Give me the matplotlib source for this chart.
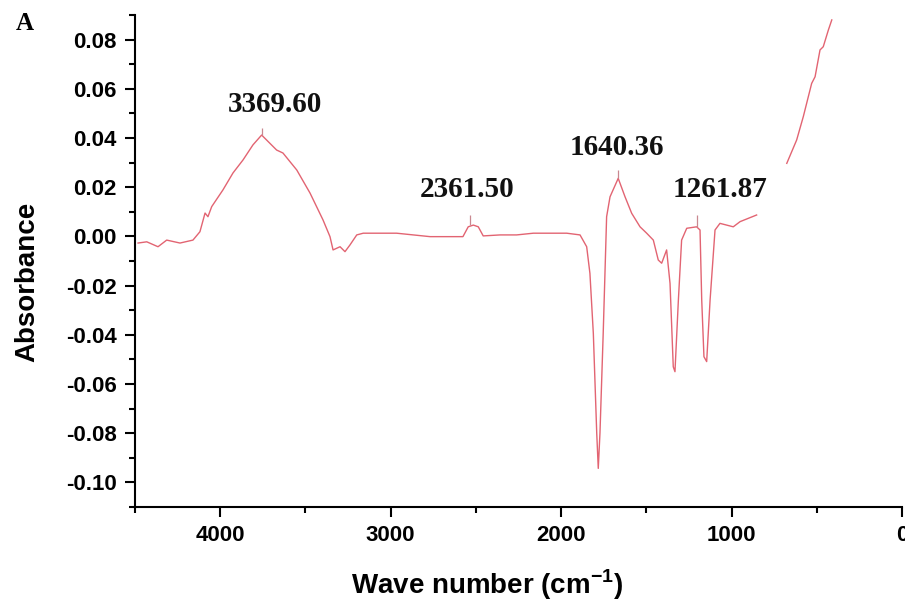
import matplotlib
matplotlib.use('Agg')
import matplotlib.pyplot as plt
from matplotlib.ticker import MultipleLocator, FuncFormatter

# ── Data ──────────────────────────────────────────────────────────────────────
# main trace, 4480 -> 850 cm-1
wn_main = [4482, 4431, 4365, 4314, 4236, 4160, 4119, 4089, 4072, 4050,
           3984, 3925, 3866, 3808, 3757, 3708, 3669, 3632, 3551, 3473,
           3397, 3356, 3338, 3297, 3268, 3239, 3199, 3161, 2965, 2769,
           2576, 2545, 2515, 2486, 2457, 2358, 2261, 2163, 1967, 1889,
           1850, 1831, 1811, 1791, 1782, 1772, 1753, 1733, 1713, 1665,
           1625, 1586, 1537, 1498, 1459, 1430, 1410, 1381, 1361, 1342,
           1332, 1312, 1293, 1263, 1205, 1185, 1175, 1162, 1146, 1126,
           1097, 1068, 1029, 990, 950, 853]
abs_main = [-0.0027, -0.0022, -0.0042, -0.0015, -0.0027, -0.0015, 0.0019, 0.0095, 0.0080, 0.0121,
            0.0189, 0.0258, 0.0311, 0.0372, 0.0412, 0.0378, 0.0351, 0.0339, 0.0270, 0.0176,
            0.0067, -0.0001, -0.0055, -0.0042, -0.0062, -0.0035, 0.0006, 0.0013, 0.0013, -0.0001,
            -0.0001, 0.0039, 0.0046, 0.0039, 0.0002, 0.0006, 0.0006, 0.0013, 0.0013, 0.0006,
            -0.0042, -0.0150, -0.0394, -0.0800, -0.0943, -0.0799, -0.0393, 0.0080, 0.0161, 0.0236,
            0.0161, 0.0094, 0.0039, 0.0013, -0.0015, -0.0096, -0.0109, -0.0055, -0.0191, -0.0530,
            -0.0550, -0.0259, -0.0015, 0.0033, 0.0039, 0.0026, -0.0259, -0.0489, -0.0509, -0.0259,
            0.0026, 0.0053, 0.0046, 0.0039, 0.0060, 0.0087]

# low wavenumber tail (separate segment)
wn_tail = [676, 618, 579, 530, 510, 481, 462, 432, 412]
abs_tail = [0.0297, 0.0392, 0.0487, 0.0622, 0.0649, 0.0758, 0.0771, 0.0839, 0.0880]

# peak labels
peak_text = ['3369.60', '2361.50', '1640.36', '1261.87']
peak_wn = [3757, 2535, 1665, 1205]
peak_base = [0.0412, 0.0046, 0.0236, 0.0039]
peak_top = [0.0439, 0.0087, 0.0270, 0.0087]
label_wn = [3679, 2549, 1672, 1068]
label_y = [0.0538, 0.0189, 0.0361, 0.0189]

# ── Figure ────────────────────────────────────────────────────────────────────
plt.rcParams['mathtext.fontset'] = 'custom'
plt.rcParams['mathtext.bf'] = 'Liberation Sans:bold'
plt.rcParams['mathtext.rm'] = 'Liberation Sans:bold'

LINE_CLR = '#e26472'

fig = plt.figure(figsize=(9.05, 6.03), dpi=100)
ax = fig.add_axes([135 / 905, 1 - 507 / 603, 767 / 905, 492 / 603])

ax.plot(wn_main, abs_main, color=LINE_CLR, lw=1.0)
ax.plot(wn_tail, abs_tail, color=LINE_CLR, lw=1.0)
ax.vlines(peak_wn, peak_base, peak_top, color='#c98890', lw=0.9)

for t, x, y in zip(peak_text, label_wn, label_y):
    ax.text(x, y, t, ha='center', va='center', fontsize=21,
            fontweight='bold', family='Liberation Serif', color='#111111')

ax.set_xlim(4500, 0)
ax.set_ylim(-0.11, 0.09)

ax.xaxis.set_major_locator(MultipleLocator(1000))
ax.xaxis.set_minor_locator(MultipleLocator(500))
ax.yaxis.set_major_locator(MultipleLocator(0.02))
ax.yaxis.set_minor_locator(MultipleLocator(0.01))
# avoid "-0.00" from float noise
ax.yaxis.set_major_formatter(FuncFormatter(
    lambda v, p: '%.2f' % (0.0 if abs(v) < 1e-9 else v)))

for s in ['top', 'right']:
    ax.spines[s].set_visible(False)
for s in ['left', 'bottom']:
    ax.spines[s].set_linewidth(1.5)

ax.tick_params(which='major', direction='out', length=7, width=1.5, pad=6,
               labelsize=16)
ax.tick_params(which='minor', direction='out', length=4, width=1.5)
for lab in ax.get_xticklabels() + ax.get_yticklabels():
    lab.set_fontweight('bold')
    lab.set_family('Liberation Sans')

fig.text(27 / 905, 1 - 282 / 603, 'Absorbance', rotation=90,
         ha='center', va='center', fontsize=20, fontweight='bold',
         family='Liberation Sans')
fig.text(487 / 905, 1 - 585 / 603, r'Wave number (cm$^{\mathbf{-1}}$)',
         ha='center', va='center', fontsize=20, fontweight='bold',
         family='Liberation Sans')
fig.text(25 / 905, 1 - 23 / 603, 'A', ha='center', va='center',
         fontsize=18, fontweight='bold', family='Liberation Serif')

fig.savefig('out.png', dpi=100, facecolor='white')
